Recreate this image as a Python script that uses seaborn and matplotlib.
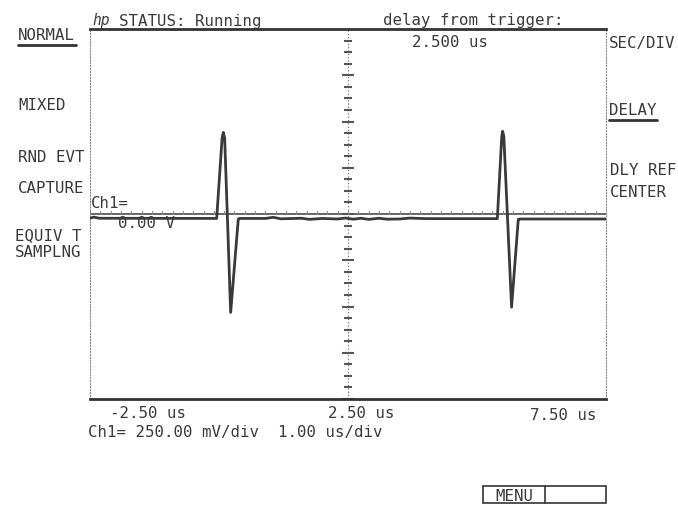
import matplotlib
matplotlib.use("Agg")
import matplotlib.pyplot as plt
import seaborn as sns
import numpy as np
from matplotlib.lines import Line2D
from matplotlib.patches import Rectangle

# Trace values (time in us, voltage in V)
trace_t = [-2.50, -2.42, -2.32, -0.045, 0.06, 0.084, 0.11, 0.226, 0.374, 0.40,
           0.90, 1.05, 1.20, 1.60, 1.75, 2.00, 2.30, 2.45, 2.60, 2.75, 2.90,
           3.10, 3.25, 3.50, 3.70, 4.00, 4.50, 5.394, 5.48, 5.497, 5.52, 5.67,
           5.80, 5.83, 7.40, 7.50]
trace_v = [-0.022, -0.017, -0.023, -0.024, 0.41, 0.441, 0.41, -0.532, -0.027, -0.024,
           -0.024, -0.018, -0.026, -0.023, -0.029, -0.024, -0.027, -0.022, -0.028, -0.023, -0.029,
           -0.023, -0.028, -0.027, -0.022, -0.025, -0.025, -0.025, 0.42, 0.447, 0.42, -0.504,
           -0.029, -0.027, -0.027, -0.027]

x_range = (-2.5, 7.5)      # 10 div x 1.00 us/div
y_range = (-1.0, 1.0)      # 8 div x 250 mV/div
center_t = 2.5

W, H = 678, 506
INK = '#3a3a3a'

sns.set_style('white')
plt.rcParams['font.family'] = ['DejaVu Sans Mono']
plt.rcParams['font.size'] = 11.3


def fxy(x, y):
    return x / W, 1 - y / H


fig = plt.figure(figsize=(W / 100, H / 100), dpi=100)
ax = fig.add_axes([90 / W, 1 - 400 / H, 516 / W, 370 / H])

# graticule: centre cross with tick marks
ax.axhline(0, color='#666666', lw=1.4, zorder=1)
ax.axvline(center_t, color='#777777', lw=0.9, ls=':', zorder=1)
for i, v in enumerate(np.arange(-1.0, 1.0001, 0.0625)):
    half = 0.115 if i % 4 == 0 else 0.068
    ax.plot([center_t - half, center_t + half], [v, v], color='#555555', lw=1.5,
            solid_capstyle='butt', zorder=1)
for t in np.arange(-2.5, 7.5001, 0.2):
    ax.plot([t, t], [0, 0.018], color='#888888', lw=0.8, zorder=1)

sns.lineplot(x=trace_t, y=trace_v, ax=ax, color='#3a3a3a', lw=2.0,
             sort=False, estimator=None, zorder=3)

ax.set_xlim(*x_range)
ax.set_ylim(*y_range)
ax.set_xticks([])
ax.set_yticks([])
ax.set_xlabel('')
ax.set_ylabel('')
for side in ['top', 'bottom']:
    ax.spines[side].set_color('#333333')
    ax.spines[side].set_linewidth(2.0)
for side in ['left', 'right']:
    ax.spines[side].set_color('#888888')
    ax.spines[side].set_linewidth(0.8)
    ax.spines[side].set_linestyle(':')

# screen labels (pixel positions, baseline aligned)
labels = [
    ('STATUS: Running', 119, 26),
    ('delay from trigger:', 383, 25),
    ('2.500 us', 412, 47),
    ('NORMAL', 18, 40),
    ('MIXED', 18, 110),
    ('RND EVT', 18, 162),
    ('CAPTURE', 18, 193),
    ('EQUIV T', 15, 240),
    ('SAMPLNG', 15, 257),
    ('SEC/DIV', 609, 48),
    ('DELAY', 609, 115),
    ('DLY REF', 610, 175),
    ('CENTER', 610, 197),
    ('Ch1=', 91, 208),
    ('0.00 V', 118, 228),
    ('-2.50 us', 110, 418),
    ('2.50 us', 328, 418),
    ('7.50 us', 530, 420),
    ('Ch1= 250.00 mV/div  1.00 us/div', 88, 437),
    ('MENU', 495, 501),
]
for txt, x, y in labels:
    fig.text(*fxy(x, y), txt, ha='left', va='baseline', color=INK)
fig.text(*fxy(92, 25), 'hp', ha='left', va='baseline', color=INK,
         style='italic', fontsize=10.5)

# underlines of active softkeys
for x0, x1, y in [(18, 76, 46), (609, 657, 121)]:
    fig.add_artist(Line2D([x0 / W, x1 / W], [1 - y / H] * 2, color='#333333', lw=2.0))

# MENU softkey box
fig.add_artist(Rectangle(fxy(483, 504), 123 / W, 17 / H, fill=False,
                         edgecolor='#333333', lw=1.2, transform=fig.transFigure))
fig.add_artist(Line2D([545 / W] * 2, [1 - 487 / H, 1 - 504 / H], color='#333333', lw=1.2))

fig.savefig('out.png', dpi=100)
